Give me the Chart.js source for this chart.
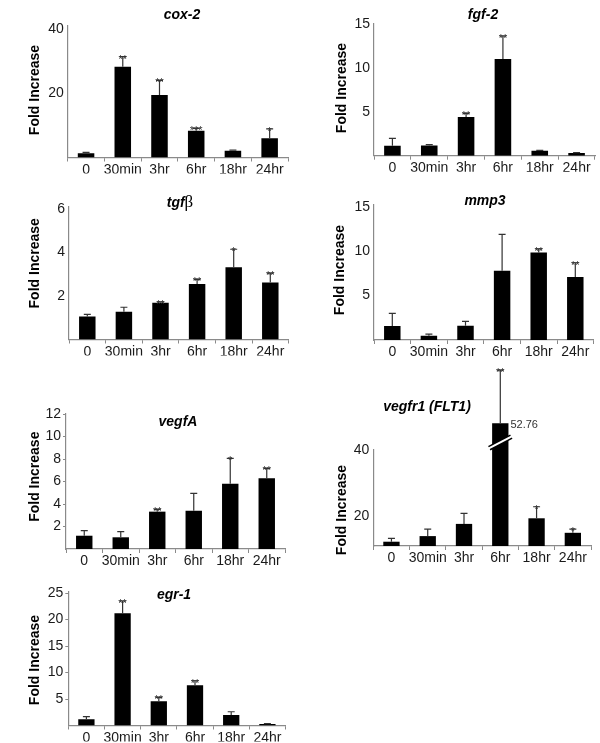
<!DOCTYPE html>
<html>
<head>
<meta charset="utf-8">
<script src="https://cdn.jsdelivr.net/npm/chart.js@4.4.1/dist/chart.umd.min.js"></script>
<style>
  html, body { margin: 0; padding: 0; background: #fff; }
  #wrap { position: relative; width: 600px; height: 743px; overflow: hidden; }
  #wrap canvas { position: absolute; left: 0; top: 0; }
</style>
</head>
<body>
<div id="wrap"></div>
<script>
// ---------------- DATA ----------------
const categories = ["0", "30min", "3hr", "6hr", "18hr", "24hr"];

const cox2Mean  = [1.3, 28.3, 19.5, 8.3, 2.1, 6.0];
const cox2SD    = [0.3, 3.1, 4.5, 0.8, 0.2, 2.9];
const cox2Stars = ["", "**", "**", "***", "", "*"];
const cox2Ticks = [20, 40];

const fgf2Mean  = [1.14, 1.15, 4.4, 11.0, 0.55, 0.3];
const fgf2SD    = [0.84, 0.1, 0.4, 2.6, 0.05, 0.05];
const fgf2Stars = ["", "", "**", "**", "", ""];
const fgf2Ticks = [5, 10, 15];

const tgfbMean  = [1.05, 1.27, 1.69, 2.55, 3.31, 2.62];
const tgfbSD    = [0.1, 0.21, 0.04, 0.21, 0.83, 0.42];
const tgfbStars = ["", "", "**", "**", "*", "**"];
const tgfbTicks = [2, 4, 6];

const mmp3Mean  = [1.57, 0.48, 1.6, 7.8, 9.85, 7.1];
const mmp3SD    = [1.43, 0.19, 0.5, 4.1, 0.41, 1.6];
const mmp3Stars = ["", "", "", "", "**", "**"];
const mmp3Ticks = [5, 10, 15];

const vegfaMean  = [1.18, 1.04, 3.32, 3.4, 5.8, 6.28];
const vegfaSD    = [0.45, 0.5, 0.21, 1.55, 2.26, 0.89];
const vegfaStars = ["", "", "**", "", "*", "**"];
const vegfaTicks = [2, 4, 6, 8, 10, 12];

// 6hr bar is drawn broken (axis break); its true value is printed beside it
const vegfr1Mean  = [12.2, 13.9, 17.6, 48.1, 19.3, 14.9];
const vegfr1SD    = [1.0, 2.1, 3.2, 16.1, 3.5, 1.1];
const vegfr1Stars = ["", "", "", "**", "*", "*"];
const vegfr1Ticks = [20, 40];
const vegfr1BrokenIndex = 3;
const vegfr1BrokenLabel = "52.76";

const egr1Mean  = [1.17, 21.2, 4.6, 7.6, 2.0, 0.3];
const egr1SD    = [0.49, 2.3, 0.7, 0.85, 0.6, 0.05];
const egr1Stars = ["", "**", "**", "**", "", ""];
const egr1Ticks = [5, 10, 15, 20, 25];

// ---------------- STYLE ----------------
const FONT = '"Liberation Sans", Arial, Helvetica, sans-serif';
const AXIS = '#8a8a8a';
const TEXT = '#1a1a1a';
const YW = 40;   // fixed y-axis box width
const XH = 16;   // fixed x-axis box height

const panelPlugin = {
  id: 'panel',
  afterDatasetsDraw(chart) {
    const p = chart.options.plugins.panel;
    const ctx = chart.ctx;
    const ys = chart.scales.y;
    const meta = chart.getDatasetMeta(0);
    ctx.save();
    meta.data.forEach((bar, i) => {
      const m = p.mean[i], sd = p.sd[i];
      const yTop = ys.getPixelForValue(m + sd);
      ctx.strokeStyle = '#333';
      ctx.lineWidth = 1.2;
      ctx.beginPath();
      ctx.moveTo(bar.x, bar.y);
      ctx.lineTo(bar.x, yTop);
      ctx.moveTo(bar.x - 3.5, yTop);
      ctx.lineTo(bar.x + 3.5, yTop);
      ctx.stroke();
      if (p.stars[i]) {
        ctx.fillStyle = '#333';
        ctx.font = '11px ' + FONT;
        ctx.textAlign = 'center';
        ctx.textBaseline = 'alphabetic';
        ctx.fillText(p.stars[i], bar.x, yTop + 6);
      }
      if (p.broken != null && p.broken === i) {
        const yb = ys.getPixelForValue(42.3);
        ctx.strokeStyle = '#000';
        ctx.lineWidth = 5;
        ctx.beginPath();
        ctx.moveTo(bar.x - 11, yb + 5.8);
        ctx.lineTo(bar.x + 11, yb - 5.8);
        ctx.stroke();
        ctx.strokeStyle = '#fff';
        ctx.lineWidth = 2;
        ctx.beginPath();
        ctx.moveTo(bar.x - 12, yb + 6.3);
        ctx.lineTo(bar.x + 12, yb - 6.3);
        ctx.stroke();
        ctx.fillStyle = '#333';
        ctx.font = '11px ' + FONT;
        ctx.textAlign = 'left';
        ctx.textBaseline = 'middle';
        ctx.fillText(p.brokenLabel, bar.x + bar.width / 2 + 2, bar.y + 2);
      }
    });
    // title
    ctx.fillStyle = '#000';
    ctx.textBaseline = 'middle';
    if (p.titleParts) {
      let total = 0;
      p.titleParts.forEach(tp => { ctx.font = tp.font; total += ctx.measureText(tp.text).width; });
      let x = p.titleX - total / 2;
      ctx.textAlign = 'left';
      p.titleParts.forEach(tp => { ctx.font = tp.font; ctx.fillText(tp.text, x, p.titleY); x += ctx.measureText(tp.text).width; });
    } else {
      ctx.font = 'italic bold 14px ' + FONT;
      ctx.textAlign = 'center';
      ctx.fillText(p.title, p.titleX, p.titleY);
    }
    // y label
    ctx.save();
    ctx.translate(p.ylabX, p.ylabY);
    ctx.rotate(-Math.PI / 2);
    ctx.font = 'bold 14px ' + FONT;
    ctx.textAlign = 'center';
    ctx.textBaseline = 'middle';
    ctx.fillText('Fold Increase', 0, 0);
    ctx.restore();
    ctx.restore();
  }
};

function makePanel(cfg) {
  const canvas = document.createElement('canvas');
  canvas.width = 600; canvas.height = 743;
  document.getElementById('wrap').appendChild(canvas);
  const a = cfg.area; // [left, top, right, bottom] page px
  const ds = {
    data: cfg.mean,
    backgroundColor: '#000',
    borderWidth: 0,
    barPercentage: 0.45,
    categoryPercentage: 1
  };
  if (cfg.noClip) { ds.clip = false; ds.base = cfg.min; }
  new Chart(canvas, {
    type: 'bar',
    data: { labels: categories, datasets: [ds] },
    options: {
      responsive: false,
      animation: false,
      devicePixelRatio: 1,
      layout: { padding: { left: a[0] - YW, top: a[1], right: 600 - a[2], bottom: 743 - a[3] - XH } },
      plugins: {
        legend: { display: false },
        tooltip: { enabled: false },
        title: { display: false },
        panel: {
          mean: cfg.mean, sd: cfg.sd, stars: cfg.stars,
          title: cfg.title, titleParts: cfg.titleParts, titleX: cfg.titleXY[0], titleY: cfg.titleXY[1],
          ylabX: cfg.ylabXY[0], ylabY: cfg.ylabXY[1],
          broken: cfg.broken, brokenLabel: cfg.brokenLabel
        }
      },
      scales: {
        x: {
          grid: { display: true, drawOnChartArea: false, drawTicks: true, tickLength: 4, color: AXIS, lineWidth: 1, offset: true },
          border: { display: true, color: AXIS, width: 1.2 },
          ticks: { color: TEXT, font: { size: 14, family: FONT }, padding: 0, maxRotation: 0, autoSkip: false },
          afterFit: s => { s.height = XH; }
        },
        y: {
          min: cfg.min, max: cfg.max, beginAtZero: false,
          afterBuildTicks: s => { s.ticks = cfg.ticks.map(v => ({ value: v })); },
          grid: { display: true, drawOnChartArea: false, drawTicks: !!cfg.yTickLen, tickLength: cfg.yTickLen || 0, color: AXIS },
          border: { display: true, color: AXIS, width: 1.2 },
          ticks: { color: TEXT, font: { size: 14, family: FONT }, padding: cfg.yTickLen ? 2 : 4 },
          afterFit: s => { s.width = YW; }
        }
      }
    },
    plugins: [panelPlugin]
  });
}

makePanel({ mean: cox2Mean, sd: cox2SD, stars: cox2Stars, ticks: cox2Ticks, min: 0, max: 41,
  area: [67.7, 25.9, 288, 157.5], title: 'cox-2', titleXY: [182, 15], ylabXY: [35, 90] });
makePanel({ mean: fgf2Mean, sd: fgf2SD, stars: fgf2Stars, ticks: fgf2Ticks, min: 0, max: 15,
  area: [374, 23.7, 595, 155.7], title: 'fgf-2', titleXY: [483, 15], ylabXY: [341.7, 88] });
makePanel({ mean: tgfbMean, sd: tgfbSD, stars: tgfbStars, ticks: tgfbTicks, min: 0, max: 6.1,
  area: [69, 206.5, 288.6, 339.5], titleParts: [
    { text: 'tgf', font: 'italic bold 14px ' + FONT },
    { text: 'β', font: '17px "Liberation Serif", "DejaVu Serif", serif' }],
  titleXY: [180, 203], ylabXY: [35, 263.3] });
makePanel({ mean: mmp3Mean, sd: mmp3SD, stars: mmp3Stars, ticks: mmp3Ticks, min: 0, max: 15.2,
  area: [374, 205, 593.6, 340], title: 'mmp3', titleXY: [485, 201], ylabXY: [340, 270] });
makePanel({ mean: vegfaMean, sd: vegfaSD, stars: vegfaStars, ticks: vegfaTicks, min: 0, max: 12,
  area: [66, 414, 285, 549], title: 'vegfA', titleXY: [178, 422], ylabXY: [35, 476.7], yTickLen: 3 });
makePanel({ mean: vegfr1Mean, sd: vegfr1SD, stars: vegfr1Stars, ticks: vegfr1Ticks, min: 10.9, max: 40,
  area: [373.3, 450, 591, 546], title: 'vegfr1 (FLT1)', titleXY: [427, 407], ylabXY: [341.7, 510],
  noClip: true, broken: vegfr1BrokenIndex, brokenLabel: vegfr1BrokenLabel });
makePanel({ mean: egr1Mean, sd: egr1SD, stars: egr1Stars, ticks: egr1Ticks, min: 0, max: 25.2,
  area: [68.3, 592, 285.5, 725.5], title: 'egr-1', titleXY: [174, 595], ylabXY: [35, 660], yTickLen: 3 });
</script>
</body>
</html>
